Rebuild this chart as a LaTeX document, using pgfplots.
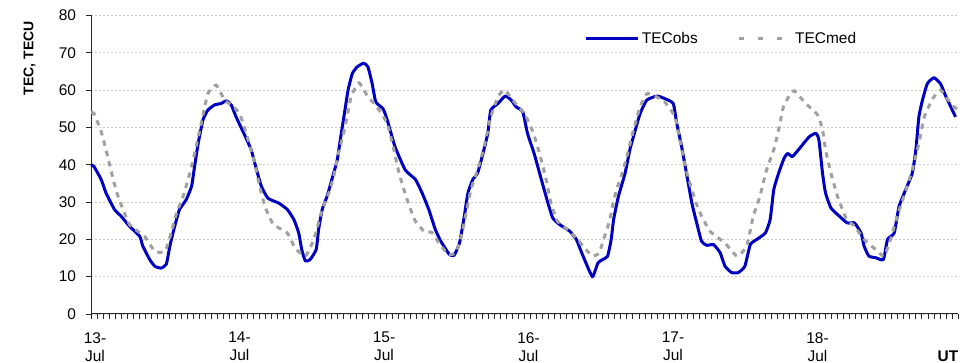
\documentclass[border=0pt]{standalone}
\usepackage{fontspec}
\setmainfont{Liberation Sans}
\usepackage{pgfplots}
\pgfplotsset{compat=1.18}

\definecolor{obsblue}{RGB}{0,0,192}
\definecolor{medgray}{RGB}{160,160,160}
\definecolor{gridgray}{RGB}{200,200,200}
\definecolor{axisline}{RGB}{40,40,40}

\begin{document}
\begin{tikzpicture}
\path[use as bounding box] (0,0) rectangle (728.25pt,272.25pt);
\begin{axis}[
  at={(68.25pt,36.75pt)}, anchor=south west,
  scale only axis, width=650.25pt, height=223.95pt,
  xmin=0, xmax=144, ymin=0, ymax=80,
  axis x line*=bottom, axis y line*=left,
  axis line style={draw=axisline, line width=0.75pt, -},
  xtick={0,24,...,144},
  xticklabels={{13-\\Jul},{14-\\Jul},{15-\\Jul},{16-\\Jul},{17-\\Jul},{18-\\Jul},{}},
  minor xtick={0,1,...,144},
  ytick={0,10,...,80},
  xtick pos=bottom, ytick pos=left,
  xtick align=outside, ytick align=outside,
  major tick length=3.5pt, minor tick length=3.5pt,
  tick style={color=axisline, line width=0.6pt},
  minor tick style={color=axisline, line width=0.6pt},
  ymajorgrids,
  major grid style={draw=gridgray, line width=0.6pt, dash pattern=on 1.5pt off 1.5pt},
  /pgf/number format/assume math mode=true,
  tick label style={font=\fontsize{11.6}{13.5}\selectfont, text=black},
  yticklabel style={anchor=east, inner sep=0pt, xshift=-7.5pt},
  xticklabel style={align=center, anchor=north, inner sep=0pt, yshift=-10pt, xshift=3pt},
  ylabel={\textbf{TEC, TECU}},
  ylabel style={at={(axis description cs:-0.0709,0.857)}, anchor=center,
    font=\fontsize{10.5}{12}\selectfont},
  legend columns=2,
  legend image code/.code={\draw[#1, line width=2pt] (0pt,0pt) -- (39pt,0pt);},
  legend style={at={(rel axis cs:0.569,0.923)}, anchor=west, draw=none, fill=none,
    inner sep=0pt, font=\fontsize{11.6}{13.5}\selectfont,
    /tikz/every even column/.append style={column sep=28pt}},
  clip=false,
]
% observed total electron content
\addplot[obsblue, line width=2.25pt, line join=round, smooth, tension=0.3]
coordinates {
(0,40) (0.5,39.5) (1.7,36) (2.5,32.4) (3.9,28) (5.0,26.2) (6.4,23.5) (8.1,20.8)
(8.6,18.2) (9.75,14.6) (10.6,12.8) (11.6,12.3) (12.5,13.3) (13.1,18.2) (13.9,23.5)
(14.7,28) (15.8,30.6) (16.7,34.2) (17.2,39.5) (17.8,45.7) (18.6,52) (19.4,54.6)
(20.5,56) (21.6,56.4) (22.5,57.1) (23.3,56) (24.1,52.8) (25.5,48) (26.6,44)
(27.5,38.6) (28.3,34.2) (29.4,31) (31.2,29.7) (32.6,28) (33.7,25.3) (34.5,21.7)
(35.0,17.3) (35.6,14.2) (36.4,14.6) (37.4,17.3) (37.8,22.6) (38.4,28) (39.2,31.5)
(40.0,36) (40.9,41.3) (41.4,46.6) (42.0,52.8) (42.7,60) (43.4,64.4) (44.2,66.2)
(45.3,67.2) (46.0,66.2) (46.7,61.7) (47.3,56.8) (48.5,55) (49.2,52) (50.5,44.8)
(52.2,38.6) (53.9,36) (55.0,32.4) (56.1,28) (57.2,22.6) (58.1,19.5) (59.5,16)
(60.3,15.7) (61.2,19) (62.0,26.2) (62.6,32.4) (63.4,36) (64.2,37.7) (65.1,43)
(65.9,48.4) (66.4,54.6) (67.6,56.4) (68.8,58.4) (69.8,57.3) (70.6,55.5) (71.7,54.2)
(72.5,48.4) (73.6,43) (74.8,36) (75.9,29.7) (76.7,25.7) (77.8,24) (79.5,22.2)
(80.6,20) (81.4,16.8) (82.2,13.7) (83.3,10) (84.2,13.7) (85.0,14.6) (85.8,15.5)
(86.4,20) (86.8,25.3) (87.6,31.5) (88.7,37.7) (89.5,44) (90.4,49.3) (91.2,53.7)
(92.3,57.3) (94.0,58.4) (95.3,57.7) (96.7,56.4) (97.3,51) (98.1,44.8) (98.9,37.7)
(99.8,29.7) (100.6,24.4) (101.4,19.5) (102.3,18.4) (103.4,18.6) (104.5,16.4)
(105.3,12.8) (106.4,11.1) (107.5,11.1) (108.6,12.8) (109.5,18.6) (110.6,20)
(112.0,21.7) (112.8,25.3) (113.4,33.3) (114.2,37.7) (115.1,41.7) (115.7,43)
(116.5,42.2) (117.9,44.8) (119.3,47.5) (120.4,48.4) (120.9,46.6) (121.5,37.7)
(122.0,32.4) (122.9,28.4) (124.3,26.2) (125.6,24.4) (126.8,24.4) (127.9,21.7)
(128.4,18.2) (129.2,15.5) (130.3,15.1) (131.6,14.6) (132.3,20) (133.4,21.7)
(134.2,28.8) (135.3,33.3) (136.4,37.7) (137.0,44) (137.5,52.8) (138.1,57.3)
(138.9,61.7) (140.0,63.3) (141.1,61.7) (141.9,58.6) (142.8,55.5) (143.6,52.8)
};
\addlegendentry{TECobs}
% monthly median
\addplot[medgray, line width=2.25pt, dash pattern=on 4pt off 4pt, smooth, tension=0.3,
  legend image post style={dash pattern=on 3.75pt off 10.5pt}]
coordinates {
(0,54) (0.5,53.7) (1.7,48.8) (2.5,44) (3.7,36) (4.5,31.5) (6.4,24) (8.9,20.8)
(10.6,16.8) (12.3,16.8) (13.3,21.7) (14.2,27) (15.3,31.5) (16.4,37.7) (17.2,43)
(18.3,51) (19.4,59) (20.8,61.3) (22.2,57.3) (23.3,56) (24.7,53.7) (26.1,46.6)
(27.2,40.4) (28.0,34.2) (29.0,28.4) (30.3,24) (32.6,21.7) (33.9,17.7) (35.6,15.5)
(37.0,20) (38.4,28) (39.5,32.4) (40.3,36.8) (41.1,43) (42.2,50.2) (43.2,58.2)
(44.5,61.9) (46.0,58.2) (47.5,55.5) (49.2,51) (50.3,44) (51.1,38.2) (51.9,33.7)
(52.8,29.3) (53.9,24.8) (55.5,21.9) (56.6,21.9) (57.8,19) (59.3,16) (60.6,16.4)
(61.5,20.8) (62.3,27) (63.1,33.3) (64.2,38.6) (65.3,44.8) (66.4,52.8) (67.6,58.2)
(68.7,60) (70.3,56.8) (72.0,53.7) (73.4,48.8) (74.5,43) (75.6,36) (76.4,29.7)
(77.5,24.8) (79.5,22.2) (80.8,20) (82.2,17.3) (83.3,15.5) (84.4,16.4) (85.3,20.8)
(86.1,24.8) (86.6,28.8) (87.3,33.5) (87.9,36) (89.0,42.2) (90.1,49.3) (91.2,55.5)
(92.3,59) (93.4,58.6) (95.3,56.8) (97.0,52.8) (97.8,46.6) (98.7,39.5) (99.8,33.3)
(100.9,28) (102.8,22.2) (105.3,19) (107.3,15.5) (108.9,18.2) (110.0,26.2)
(111.1,31.5) (112.2,38.6) (113.4,44) (114.2,49.3) (115.0,55.5) (116.0,58.5)
(116.8,59.8) (118.7,56.4) (120.7,53.3) (121.5,49.3) (122.0,44) (122.9,37.7)
(124.0,31.5) (125.4,25.7) (126.8,23.5) (128.4,20) (130.3,17.3) (131.7,15.5)
(132.8,20) (133.9,26.2) (135.0,31.5) (136.4,38.6) (137.5,45.7) (138.4,52.8)
(139.8,57.7) (141.1,60) (142.2,57.7) (143.3,55.5) (144,55)
};
\addlegendentry{TECmed}
\node[font=\bfseries\fontsize{11.6}{13.5}\selectfont, anchor=center]
  at (axis description cs:0.9885,-0.1407) {UT};
\end{axis}
\end{tikzpicture}
\end{document}
